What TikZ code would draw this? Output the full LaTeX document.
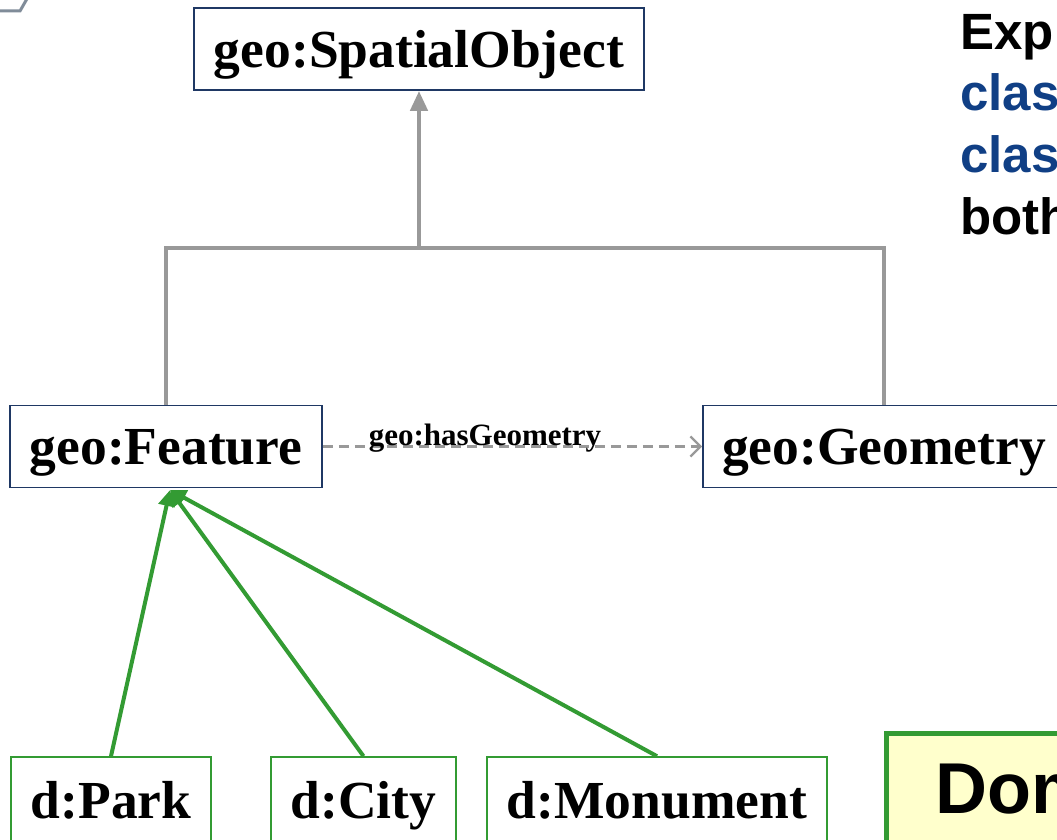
\documentclass[tikz,border=0pt]{standalone}
\usepackage{fontspec}
\setmainfont{Liberation Serif}
\setsansfont{Liberation Sans}
\usetikzlibrary{arrows.meta,calc}
\definecolor{navy}{RGB}{31,56,100}
\definecolor{ugreen}{RGB}{51,155,51}
\definecolor{ugray}{RGB}{153,153,153}
\definecolor{ublue}{RGB}{16,63,133}
\definecolor{uyellow}{RGB}{255,255,204}
\definecolor{frag}{RGB}{128,140,153}
\tikzset{
  geobox/.style={draw=navy, line width=1.8pt, fill=white, inner sep=0pt,
    text height=40pt, text depth=3pt,
    minimum height=82pt, font=\fontsize{53.5}{53.5}\selectfont\bfseries},
  dbox/.style={draw=ugreen, line width=1.6pt, fill=white, inner sep=0pt,
    text height=30pt, text depth=8pt,
    minimum height=100pt, font=\fontsize{53.5}{53.5}\selectfont\bfseries},
  sub/.style={ugray, line width=4.5pt},
  inst/.style={ugreen, line width=4pt, -{Triangle[width=16pt,length=16pt]}},
  side/.style={anchor=base west, inner sep=0pt, font=\sffamily\bfseries\fontsize{51}{51}\selectfont},
}
\begin{document}
\begin{tikzpicture}[x=1pt,y=1pt]
\useasboundingbox (0,0) rectangle (1057,839);
\clip (0,0) rectangle (1057,839);
% corner fragment
\draw[frag, line width=3pt] (-5,828) -- (20,828) -- (28,842);
% class nodes
\node[geobox, minimum width=450pt] (so) at (419,790) {geo:SpatialObject};
\node[geobox, minimum width=312pt] (feat) at (166,392.5) {geo:Feature};
\node[geobox, minimum width=362pt] (geom) at (884,392.5) {geo:Geometry};
% instance nodes
\node[dbox, minimum width=200pt] (park) at (111,32) {d:Park};
\node[dbox, minimum width=185pt] (city) at (363.5,32) {d:City};
\node[dbox, minimum width=340pt] (mon) at (657,32) {d:Monument};
% Dom box
\node[draw=ugreen, fill=uyellow, line width=4.5pt, anchor=north west,
  minimum width=260pt, minimum height=140pt] (dom) at (884,108) {};
\node[anchor=base west, inner sep=0pt, font=\sffamily\bfseries\fontsize{72}{72}\selectfont]
  (domt) at (935,26) {Dom};
% side text
\node[side] (t1) at (960,789) {Exp};
\node[side, text=ublue] (t2) at (960,728) {clas};
\node[side, text=ublue] (t3) at (960,666) {clas};
\node[side] (t4) at (960,604) {both};
% subclass tree
\coordinate (j) at (419,591);
\draw[sub] (feat.north) |- (j) -| (geom.north);
\draw[sub, -{Triangle[width=17pt,length=20pt]}] (j) -- (so.south);
% hasGeometry
\draw[ugray, line width=2.3pt, dash pattern=on 10pt off 6pt,
  -{Straight Barb[length=10pt,width=20pt,line width=2.3pt]}] (feat.east) -- (geom.west);
\node[anchor=base, inner sep=0pt, font=\fontsize{31}{31}\selectfont\bfseries] (lbl) at (485,393) {geo:hasGeometry};
% instance arrows
\coordinate (fb) at (170,349);
\draw[inst] (mon.north) -- (fb);
\draw[inst] (city.north) -- (fb);
\draw[inst] (park.north) -- (fb);
\end{tikzpicture}
\end{document}
